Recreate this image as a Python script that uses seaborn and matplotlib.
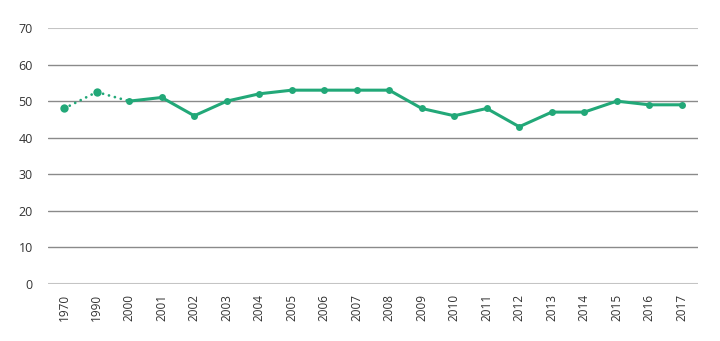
import matplotlib
matplotlib.use("Agg")
import matplotlib.pyplot as plt
import seaborn as sns
import pandas as pd

years = ["1970", "1990", "2000", "2001", "2002", "2003", "2004", "2005", "2006",
         "2007", "2008", "2009", "2010", "2011", "2012", "2013", "2014", "2015",
         "2016", "2017"]
values = [48, 52.5, 50, 51, 46, 50, 52, 53, 53, 53, 53, 48, 46, 48, 43, 47, 47,
          50, 49, 49]
yticks = [0, 10, 20, 30, 40, 50, 60, 70]

sns.set_theme(style="white")
plt.rcParams["font.family"] = ["Open Sans", "DejaVu Sans"]

green = "#22a878"
df = pd.DataFrame({"year": years, "value": values, "pos": range(len(years))})
early = df.iloc[:3]
late = df.iloc[2:]

fig = plt.figure(figsize=(7.2, 3.41), dpi=100)
ax = fig.add_axes([48 / 720, (341 - 284) / 341, 650 / 720, 256 / 341])

for v in yticks:
    edge = v in (0, 70)
    ax.axhline(v, color="#c4c4c4" if edge else "#8a8a8a",
               lw=1.5 if edge else 1.0, zorder=0)

# dotted connection for the sparse early years
sns.lineplot(data=early, x="pos", y="value", ax=ax, color=green, lw=2.0,
             linestyle=(0, (0.01, 2.2)), dash_capstyle="round", marker="o",
             markersize=6, markeredgewidth=0, markevery=[0, 1])
sns.lineplot(data=late, x="pos", y="value", ax=ax, color=green, lw=2.2,
             marker="o", markersize=5, markeredgewidth=0)

ax.set_xlim(-0.5, len(years) - 0.5)
ax.set_ylim(0, 70)
ax.set_xticks(range(len(years)))
ax.set_xticklabels(years, rotation=90, fontsize=8.5, color="#333333")
ax.set_yticks(yticks)
ax.set_yticklabels([str(v) for v in yticks], fontsize=9, color="#333333")
ax.tick_params(axis="both", length=0)
ax.tick_params(axis="x", pad=7)
ax.tick_params(axis="y", pad=11)
ax.set_xlabel("")
ax.set_ylabel("")
for s in ax.spines.values():
    s.set_visible(False)

fig.savefig("out.png", dpi=100)
